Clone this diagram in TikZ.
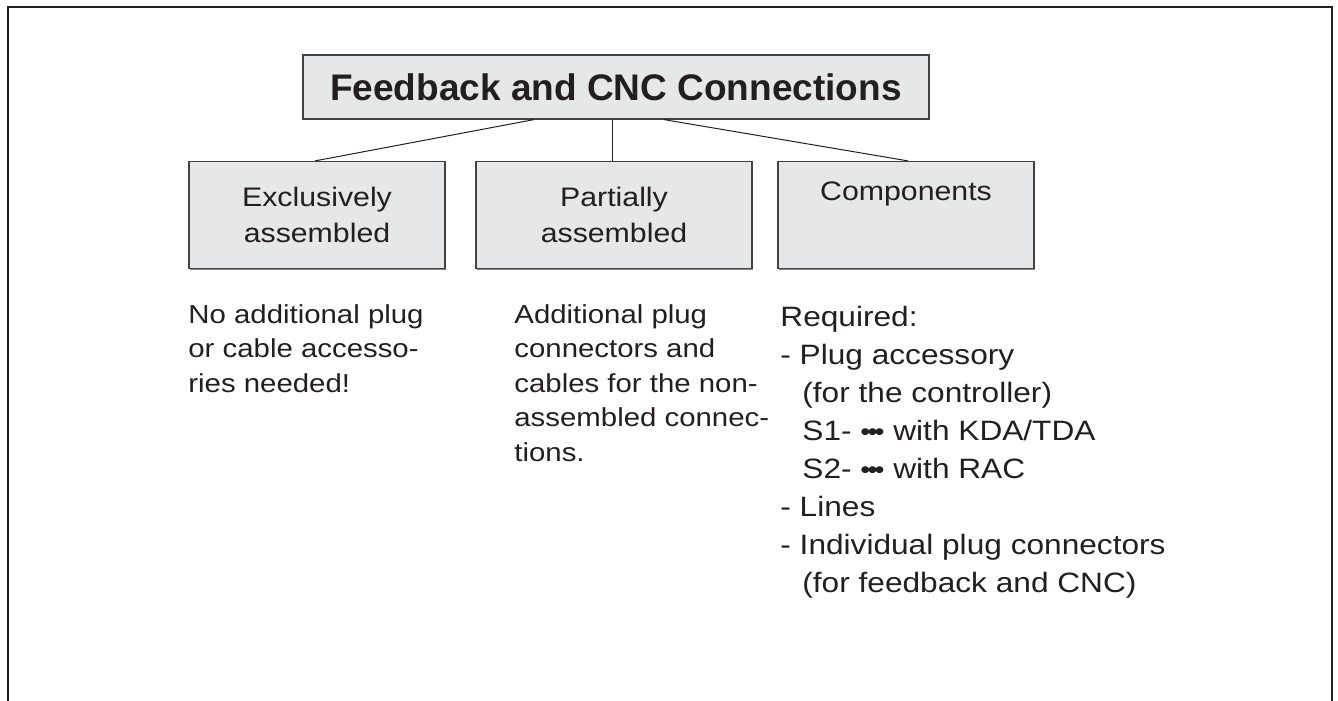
\documentclass[tikz,border=0pt]{standalone}
\usepackage{fontspec}
\setmainfont{Liberation Sans}
\newfontfamily\widesans[FakeStretch=1.13]{Liberation Sans}
\usepackage{tikz}
\usetikzlibrary{shadows}
\definecolor{ink}{HTML}{231F20}
\definecolor{boxgray}{HTML}{E6E7E8}
\newcommand{\dotsbul}{\scalebox{0.9}{•\kern-1.6pt•\kern-1.6pt•}}
\tikzset{
  shade box/.style={draw=ink!85, line width=0.6pt, fill=boxgray,
    drop shadow={shadow xshift=0.6pt, shadow yshift=-0.6pt, fill=ink!55, opacity=1}},
  catbox/.style={shade box, minimum height=53.5pt, inner sep=0pt, align=center,
    font=\widesans\fontsize{13.4}{18}\selectfont, text=ink},
  notes/.style={anchor=north west, inner sep=0pt, align=left,
    font=\widesans\fontsize{13}{17.25}\selectfont, text=ink},
  link/.style={draw=ink, line width=0.5pt}
}

\begin{document}
\begin{tikzpicture}[x=0.5pt,y=-0.5pt]
\useasboundingbox (0,0) rectangle (1338,701);
% frame, open at the bottom
\draw[ink, line width=1.3pt] (8,701) -- (8,7) -- (1332,7) -- (1332,701);
% title
\node[shade box, minimum width=313pt, minimum height=32pt,
  font=\bfseries\fontsize{18.5}{22}\selectfont, text=ink] (title) at (616,87) {Feedback and CNC Connections};
% categories
\node[catbox, minimum width=128pt] (excl) at (317,215) {Exclusively\\assembled};
\node[catbox, minimum width=138pt] (part) at (614,215) {Partially\\assembled};
\node[catbox, minimum width=128pt] (comp) at (906,215) {Components\\\strut};
\draw[link] ([xshift=-41pt]title.south) -- ([xshift=-1pt]excl.north);
\draw[link] ([xshift=-2pt]title.south) -- ([xshift=-1pt]part.north);
\draw[link] ([xshift=24pt]title.south) -- ([xshift=1pt]comp.north);
% notes below
\node[notes] (exclnote) at (188,304) {No additional plug\\or cable accesso-\\ries needed!};
\node[notes] (partnote) at (514,304) {Additional plug\\connectors and\\cables for the non-\\assembled connec-\\tions.};
\node[notes, font=\widesans\fontsize{14}{19}\selectfont] (compnote) at (780,306) {Required:\\- Plug accessory\\
  \hspace*{11pt}(for the controller)\\\hspace*{11pt}S1- \dotsbul\ with KDA/TDA\\
  \hspace*{11pt}S2- \dotsbul\ with RAC\\- Lines\\- Individual plug connectors\\
  \hspace*{11pt}(for feedback and CNC)};
\end{tikzpicture}
\end{document}
